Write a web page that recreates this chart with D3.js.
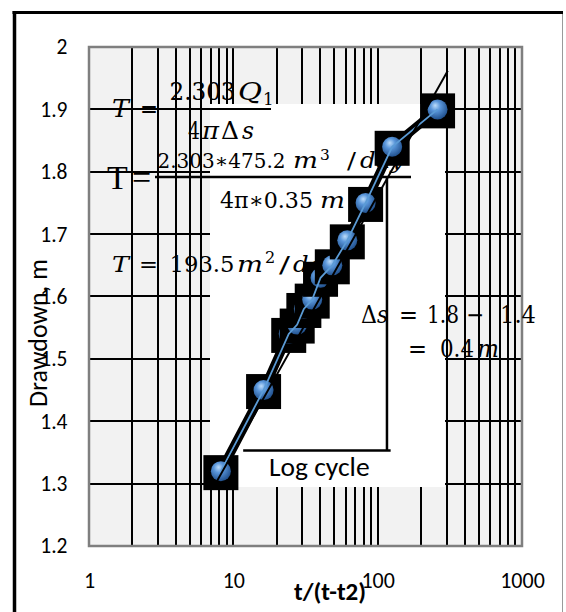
<!DOCTYPE html>
<html>
<head>
<meta charset="utf-8">
<script src="https://cdn.jsdelivr.net/npm/d3@7/dist/d3.min.js"></script>
<style>
  html, body { margin: 0; padding: 0; background: #fff; }
  svg { display: block; }
</style>
</head>
<body>
<svg id="chart" width="566" height="612"></svg>
<script>
// ---------------- data ----------------
const ratioT = [8.2, 16.2, 24.2, 27.7, 30.8, 35.2, 40.2, 48.5, 61.6, 82.5, 126, 260];   // t/(t-t2)
const drawdown = [1.32, 1.45, 1.54, 1.555, 1.58, 1.595, 1.63, 1.65, 1.69, 1.75, 1.84, 1.90]; // m
const fitX = [7.7, 306];
const fitY = [1.304, 1.962];
const xTickLabels = ["1", "10", "100", "1000"];
const yTickLabels = ["1.2", "1.3", "1.4", "1.5", "1.6", "1.7", "1.8", "1.9", "2"];
const cycleX = [11.7, 123];     // log cycle leg
const cycleLegX = 116;          // delta-s leg
const cycleY = [1.353, 1.792];

// ---------------- layout ----------------
const svg = d3.select("#chart");
const L = 89, R = 522, T = 47, B = 546;
const x = d3.scaleLog().domain([1, 1000]).range([L, R]);
const y = d3.scaleLinear().domain([1.2, 2]).range([B, T]);

// outer frame
svg.append("line").attr("x1", 562.5).attr("x2", 562.5).attr("y1", 11).attr("y2", 612)
  .attr("stroke", "#9a9a9a").attr("stroke-width", 1);
svg.append("line").attr("x1", 12.5).attr("x2", 563).attr("y1", 12.5).attr("y2", 12.5)
  .attr("stroke", "#000").attr("stroke-width", 3);
svg.append("line").attr("x1", 14.5).attr("x2", 14.5).attr("y1", 11).attr("y2", 612)
  .attr("stroke", "#000").attr("stroke-width", 3.5);

// plot background
svg.append("rect").attr("x", L).attr("y", T).attr("width", R - L).attr("height", B - T)
  .attr("fill", "#f2f2f2");

// gridlines
const vTicks = [];
for (let k = 0; k < 3; k++) for (let m = 1; m < 10; m++) vTicks.push(m * Math.pow(10, k));
vTicks.push(1000);
const grid = svg.append("g").attr("stroke", "#000").attr("stroke-width", 2);
grid.selectAll("line.v").data(vTicks).join("line").attr("class", "v")
  .attr("x1", d => Math.round(x(d))).attr("x2", d => Math.round(x(d))).attr("y1", T).attr("y2", B);
grid.selectAll("line.h").data(yTickLabels.map(Number)).join("line").attr("class", "h")
  .attr("x1", L).attr("x2", R).attr("y1", d => Math.round(y(d))).attr("y2", d => Math.round(y(d)));

// plot border
svg.append("rect").attr("x", L).attr("y", T).attr("width", R - L).attr("height", B - T)
  .attr("fill", "none").attr("stroke", "#7f7f7f").attr("stroke-width", 2.5);

// axes labels
const tickFont = "Carlito, Calibri, Lato, sans-serif";
const yAxis = d3.axisLeft(y).tickValues(yTickLabels.map(Number))
  .tickFormat((d, i) => yTickLabels[i]).tickSize(0).tickPadding(21.5);
const gy = svg.append("g").attr("transform", `translate(${L},0)`).call(yAxis);
gy.select(".domain").remove();
gy.selectAll("text").attr("font-family", tickFont).attr("font-size", 21.5).attr("fill", "#000");

const xAxis = d3.axisBottom(x).tickValues(xTickLabels.map(Number))
  .tickFormat((d, i) => xTickLabels[i]).tickSize(0).tickPadding(26);
const gx = svg.append("g").attr("transform", `translate(0,${B})`).call(xAxis);
gx.select(".domain").remove();
gx.selectAll("text").attr("font-family", tickFont).attr("font-size", 22).attr("fill", "#000");

// white text box
svg.append("rect").attr("x", 210).attr("y", 104).attr("width", 235).attr("height", 383)
  .attr("fill", "#fff");

// triangle construction
svg.append("line").attr("x1", x(cycleX[0])).attr("x2", x(cycleX[1]))
  .attr("y1", y(cycleY[0])).attr("y2", y(cycleY[0]))
  .attr("stroke", "#000").attr("stroke-width", 2.5);
svg.append("line").attr("x1", x(cycleLegX)).attr("x2", x(cycleLegX))
  .attr("y1", y(cycleY[0])).attr("y2", y(cycleY[1]))
  .attr("stroke", "#000").attr("stroke-width", 2.5);

// ---------------- formulas ----------------
const mathFont = "'DejaVu Serif', serif";
// one <text> per formula line; each part: t text, x absolute left, w fitted width,
// i italic, s size factor, dy baseline shift (em)
function mtext(py, size, parts) {
  const t = svg.append("text").attr("x", parts[0].x).attr("y", py)
    .attr("font-family", mathFont).attr("font-size", size).attr("fill", "#000");
  parts.forEach(p => {
    const s = t.append("tspan").attr("x", p.x).attr("y", py + (p.dy || 0) * size).text(p.t);
    if (p.s) s.attr("font-size", size * p.s);
    if (p.i) s.attr("font-style", "italic");
    if (p.w) s.attr("textLength", p.w).attr("lengthAdjust", "spacingAndGlyphs");
  });
  return t;
}
// formula 1
mtext(117, 24, [{t: "T", x: 112, w: 17, i: true}, {t: "=", x: 140, w: 18}]);
mtext(100, 24, [{t: "2.303", x: 169.5, w: 66}, {t: "Q", x: 238, w: 24, i: true},
  {t: "1", x: 263, s: 0.7, dy: 0.22}]);
svg.append("line").attr("x1", 159).attr("x2", 271).attr("y1", 109).attr("y2", 109)
  .attr("stroke", "#000").attr("stroke-width", 2);
mtext(139, 24, [{t: "4", x: 188, w: 12}, {t: "π", x: 202, w: 17, i: true}, {t: "Δ", x: 221, w: 18},
  {t: "s", x: 242, w: 12, i: true}]);

// formula 2
svg.append("text").attr("x", 107).attr("y", 189).attr("font-family", "'Liberation Serif', serif")
  .attr("font-size", 34).attr("fill", "#000")
  .call(t => { t.append("tspan").attr("x", 107).text("T"); t.append("tspan").attr("x", 132).text("="); });
mtext(168, 22, [{t: "2.303∗475.2", x: 157.5, w: 128, s: 0.9}, {t: "m", x: 293, w: 25, i: true},
  {t: "3", x: 320, s: 0.7, dy: -0.38}, {t: "/", x: 347, w: 9}, {t: "day", x: 360, w: 44, i: true}]);
svg.append("line").attr("x1", 155).attr("x2", 411).attr("y1", 177).attr("y2", 177)
  .attr("stroke", "#000").attr("stroke-width", 2.5);
mtext(208, 22, [{t: "4π∗0.35", x: 220, w: 93}, {t: "m", x: 320, w: 25, i: true}]);

// formula 3
mtext(272, 23, [{t: "T", x: 112, w: 17, i: true}, {t: "=", x: 139, w: 19}, {t: "193.5", x: 169.5, w: 65},
  {t: "m", x: 237, w: 26, i: true}, {t: "2", x: 265, s: 0.7, dy: -0.38}, {t: "/", x: 279, w: 11},
  {t: "day", x: 293, w: 44, i: true}]);

// formula 4
mtext(323, 24, [{t: "Δ", x: 361, w: 16}, {t: "s", x: 377, w: 11, i: true}, {t: "=", x: 399, w: 19},
  {t: "1.8", x: 427, w: 32}, {t: "−", x: 466, w: 18}, {t: "1.4", x: 500, w: 36}]);
mtext(357, 24, [{t: "=", x: 408, w: 19}, {t: "0.4", x: 440, w: 34}, {t: "m", x: 477, w: 22, i: true}]);

// Log cycle label
svg.append("text").attr("x", 269).attr("y", 476).attr("font-family", tickFont)
  .attr("font-size", 27.5).attr("fill", "#000").text("Log cycle");

// ---------------- series ----------------
const defs = svg.append("defs");
const grad = defs.append("radialGradient").attr("id", "ball")
  .attr("cx", "42%").attr("cy", "38%").attr("r", "62%").attr("fx", "38%").attr("fy", "30%");
grad.append("stop").attr("offset", "0%").attr("stop-color", "#bcdcfa");
grad.append("stop").attr("offset", "40%").attr("stop-color", "#5a96da");
grad.append("stop").attr("offset", "100%").attr("stop-color", "#22528f");

const pts = ratioT.map((v, i) => [v, drawdown[i]]);
const line = d3.line().x(d => x(d[0])).y(d => y(d[1]));

svg.append("path").datum(pts).attr("d", line).attr("fill", "none")
  .attr("stroke", "#000").attr("stroke-width", 9).attr("stroke-linejoin", "round");

const mk = svg.append("g").selectAll("g").data(pts).join("g")
  .attr("transform", d => `translate(${x(d[0])},${y(d[1])})`);
mk.append("rect").attr("x", -17.5).attr("y", -16).attr("width", 35).attr("height", 35).attr("fill", "#000");
mk.append("circle").attr("r", 10).attr("fill", "url(#ball)");

svg.append("path").datum(pts).attr("d", line).attr("fill", "none")
  .attr("stroke", "#5b9bd5").attr("stroke-width", 1.8);

// fitted straight line
svg.append("line").attr("x1", x(fitX[0])).attr("y1", y(fitY[0]))
  .attr("x2", x(fitX[1])).attr("y2", y(fitY[1]))
  .attr("stroke", "#000").attr("stroke-width", 2);

// axis titles
svg.append("text").attr("x", 330).attr("y", 600).attr("text-anchor", "middle")
  .attr("font-family", tickFont).attr("font-weight", "bold").attr("font-size", 25)
  .attr("fill", "#000").text("t/(t-t2)");
svg.append("text").attr("transform", "translate(47,333) rotate(-90)").attr("text-anchor", "middle")
  .attr("font-family", tickFont).attr("font-size", 26).attr("fill", "#000").text("Drawdown, m");
</script>
</body>
</html>
